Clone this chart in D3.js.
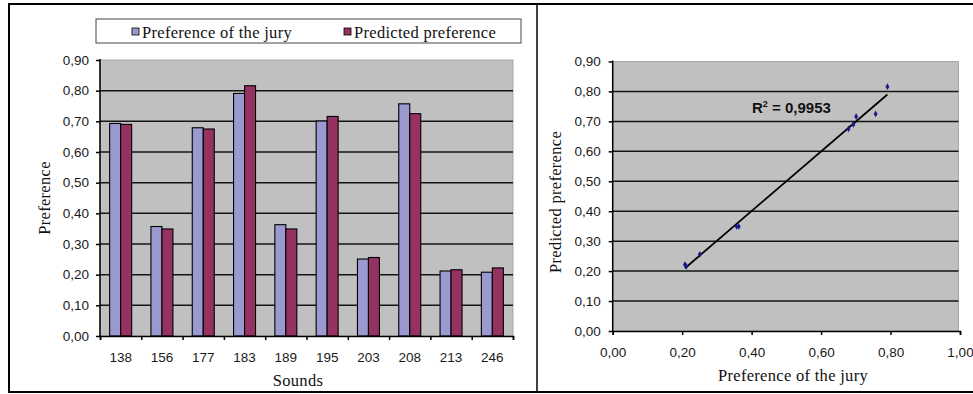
<!DOCTYPE html>
<html><head><meta charset="utf-8">
<script src="https://cdn.jsdelivr.net/npm/d3@7"></script>
<style>
html,body{margin:0;padding:0;background:#fff;}
svg{display:block;}
.serif{font-family:"Liberation Serif","Times New Roman",serif;font-size:16.5px;letter-spacing:0.3px;fill:#111;}
.tick{font-family:"Liberation Sans",Arial,sans-serif;font-size:13.5px;fill:#1a1a1a;}
</style></head>
<body>
<svg id="c" width="973" height="394"></svg>
<script>
const categories = ["138","156","177","183","189","195","203","208","213","246"];
const juryPref = [0.693,0.357,0.679,0.791,0.363,0.701,0.251,0.757,0.212,0.208];
const predPref = [0.690,0.349,0.675,0.816,0.349,0.716,0.256,0.725,0.216,0.222];
const seriesNames = ["Preference of the jury","Predicted preference"];
const yTicks = [0,0.1,0.2,0.3,0.4,0.5,0.6,0.7,0.8,0.9];
const xTicksScatter = [0,0.2,0.4,0.6,0.8,1.0];
const r2Label = "0,9953";

const colors = ["#9a9ad0","#953262"];
const fmt = v => d3.format(".2f")(v).replace(".", ",");
const svg = d3.select("#c");

// outer frame (top, left, bottom, divider)
svg.append("path").attr("d","M973,4H9V392H973")
  .attr("fill","none").attr("stroke","#000").attr("stroke-width",2);
svg.append("line").attr("x1",537).attr("x2",537).attr("y1",4).attr("y2",392)
  .attr("stroke","#000").attr("stroke-width",1.5);

// ---------- LEFT: bar chart ----------
const L = {l:100, r:513, t:60, b:336};
const x0 = d3.scaleBand().domain(categories).range([L.l, L.r]).padding(0);
const x1 = d3.scaleBand().domain([0,1]).range([x0.bandwidth()*0.234, x0.bandwidth()*0.766]).padding(0);
const yL = d3.scaleLinear().domain([0,0.9]).range([L.b, L.t]);

svg.append("rect").attr("x",L.l).attr("y",L.t).attr("width",L.r-L.l).attr("height",L.b-L.t)
  .attr("fill","#c0c0c0").attr("stroke","#a8a8a8").attr("stroke-width",1);
svg.append("g").selectAll("line").data(yTicks.filter(v=>v>0 && v<0.9)).join("line")
  .attr("x1",L.l).attr("x2",L.r).attr("y1",d=>yL(d)).attr("y2",d=>yL(d))
  .attr("stroke","#151515").attr("stroke-width",1.5);

const groups = svg.append("g").selectAll("g").data(categories).join("g")
  .attr("transform",d=>`translate(${x0(d)},0)`);
groups.selectAll("rect").data((d,i)=>[juryPref[i],predPref[i]]).join("rect")
  .attr("x",(d,j)=>x1(j)).attr("width",x1.bandwidth())
  .attr("y",d=>yL(d)).attr("height",d=>yL(0)-yL(d))
  .attr("fill",(d,j)=>colors[j]).attr("stroke","#000").attr("stroke-width",1.1);

// axes
const yAxL = svg.append("g").attr("transform",`translate(${L.l},0)`)
  .call(d3.axisLeft(yL).tickValues(yTicks).tickFormat(fmt).tickSize(4).tickPadding(7));
const xAxL = svg.append("g").attr("transform",`translate(0,${L.b})`)
  .call(d3.axisBottom(d3.scaleLinear().domain([0,categories.length]).range([L.l,L.r]))
    .tickValues(d3.range(categories.length+1)).tickFormat("").tickSize(4));
[yAxL,xAxL].forEach(g=>{
  g.select(".domain").attr("stroke","#000").attr("stroke-width",1.5);
  g.selectAll(".tick line").attr("stroke","#000").attr("stroke-width",1.5);
  g.selectAll("text").attr("class","tick").attr("font-size",null).attr("font-family",null);
});
yAxL.select(".domain").attr("d",`M0,${L.t-1}V${L.b}`);
svg.append("g").selectAll("text").data(categories).join("text").attr("class","tick")
  .attr("x",d=>x0(d)+x0.bandwidth()/2).attr("y",361.5).attr("text-anchor","middle").text(d=>d);

svg.append("text").attr("class","serif").attr("x",298).attr("y",386).attr("text-anchor","middle").text("Sounds");
svg.append("text").attr("class","serif").attr("transform","translate(50,198) rotate(-90)")
  .attr("text-anchor","middle").text("Preference");

// legend
svg.append("rect").attr("x",96).attr("y",19).attr("width",425).attr("height",24)
  .attr("fill","#fff").attr("stroke","#444").attr("stroke-width",1);
const legX = [132,344];
seriesNames.forEach((n,i)=>{
  svg.append("rect").attr("x",legX[i]).attr("y",28).attr("width",7).attr("height",7)
    .attr("fill",colors[i]).attr("stroke","#000").attr("stroke-width",0.8);
  svg.append("text").attr("class","serif").attr("x",legX[i]+10).attr("y",37.5).text(n);
});

// ---------- RIGHT: scatter ----------
const R = {l:612.7, r:960, t:61.5, b:331};
const xR = d3.scaleLinear().domain([0,1]).range([R.l,R.r]);
const yR = d3.scaleLinear().domain([0,0.9]).range([R.b,R.t]);

svg.append("rect").attr("x",R.l).attr("y",R.t).attr("width",R.r-R.l-1.5).attr("height",R.b-R.t)
  .attr("fill","#c0c0c0").attr("stroke","#a8a8a8").attr("stroke-width",1);
svg.append("g").selectAll("line").data(yTicks.filter(v=>v>0 && v<0.9)).join("line")
  .attr("x1",R.l).attr("x2",R.r-1.5).attr("y1",d=>yR(d)).attr("y2",d=>yR(d))
  .attr("stroke","#151515").attr("stroke-width",1.5);

const yAxR = svg.append("g").attr("transform",`translate(${R.l},0)`)
  .call(d3.axisLeft(yR).tickValues(yTicks).tickFormat(fmt).tickSize(4).tickPadding(8));
const xAxR = svg.append("g").attr("transform",`translate(0,${R.b})`)
  .call(d3.axisBottom(xR).tickValues(xTicksScatter).tickFormat(fmt).tickSize(4).tickPadding(6));
[yAxR,xAxR].forEach(g=>{
  g.select(".domain").attr("stroke","#000").attr("stroke-width",1.5);
  g.selectAll(".tick line").attr("stroke","#000").attr("stroke-width",1.5);
  g.selectAll("text").attr("class","tick").attr("font-size",null).attr("font-family",null);
});
yAxR.select(".domain").attr("d",`M0,${R.t-1}V${R.b}`);
xAxR.selectAll("text").attr("dy",null).attr("y",26);

// trendline (least squares)
const mx = d3.mean(juryPref), my = d3.mean(predPref);
const slope = d3.sum(juryPref.map((v,i)=>(v-mx)*(predPref[i]-my))) / d3.sum(juryPref.map(v=>(v-mx)**2));
const icpt = my - slope*mx;
const xmin = d3.min(juryPref), xmax = d3.max(juryPref);
svg.append("line").attr("x1",xR(xmin)).attr("y1",yR(icpt+slope*xmin))
  .attr("x2",xR(xmax)).attr("y2",yR(icpt+slope*xmax))
  .attr("stroke","#000").attr("stroke-width",1.8);

svg.append("g").selectAll("path").data(juryPref.map((v,i)=>[v,predPref[i]])).join("path")
  .attr("d",d3.symbol(d3.symbolDiamond,13))
  .attr("transform",d=>`translate(${xR(d[0])},${yR(d[1])})`)
  .attr("fill","#1a1a8a");

const rt = svg.append("text").attr("x",752).attr("y",113)
  .attr("font-family","Liberation Sans, Arial, sans-serif").attr("font-weight","bold")
  .attr("font-size",15).attr("fill","#111");
rt.append("tspan").text("R");
rt.append("tspan").attr("font-size",9).attr("dy",-6).text("2");
rt.append("tspan").attr("dy",6).text(" = " + r2Label);

svg.append("text").attr("class","serif").attr("x",793).attr("y",381).attr("text-anchor","middle").text("Preference of the jury");
svg.append("text").attr("class","serif").attr("transform","translate(561,202) rotate(-90)")
  .attr("text-anchor","middle").text("Predicted preference");
</script>
</body></html>
